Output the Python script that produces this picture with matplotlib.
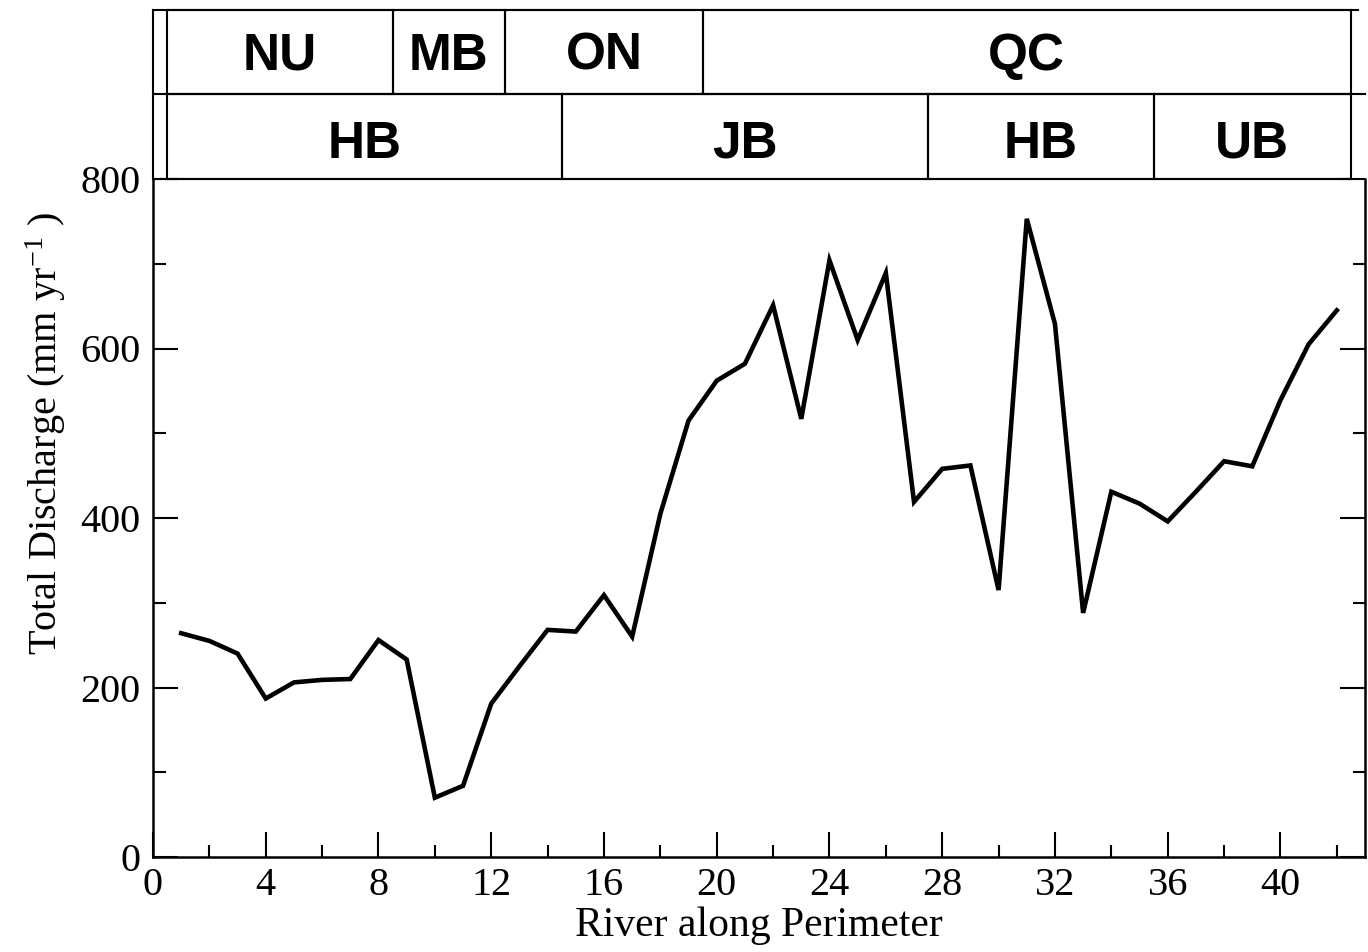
import matplotlib
matplotlib.use("Agg")
import matplotlib.pyplot as plt
from matplotlib.patches import Rectangle
from matplotlib.ticker import MultipleLocator

# discharge per river, numbered along the perimeter
river = list(range(1, 43))
discharge = [264, 255, 240, 187, 206, 209, 210, 256, 233, 70,
             84, 181, 225, 268, 266, 309, 260, 405, 515, 562,
             582, 651, 517, 704, 610, 689, 419, 458, 462, 315,
             753, 629, 288, 431, 417, 396, 431, 467, 461, 539,
             605, 645]

# region strips drawn above the plot (edges in river units)
provinces = ["NU", "MB", "ON", "QC"]
province_edges = [0.5, 8.5, 12.5, 19.5, 42.5]
basins = ["HB", "JB", "HB", "UB"]
basin_edges = [0.5, 14.5, 27.5, 35.5, 42.5]

plt.rcParams["font.family"] = ["Liberation Serif", "DejaVu Serif"]
plt.rcParams["mathtext.fontset"] = "custom"
plt.rcParams["mathtext.rm"] = "Liberation Serif"
plt.rcParams["mathtext.it"] = "Liberation Serif:italic"

fig = plt.figure(figsize=(13.68, 9.52), dpi=100)
ax = fig.add_axes([153 / 1368, 95 / 952, 1212 / 1368, 678 / 952])

ax.plot(river, discharge, color="black", lw=3.3, solid_joinstyle="miter")

ax.set_xlim(0, 43)
ax.set_ylim(0, 800)
ax.xaxis.set_major_locator(MultipleLocator(4))
ax.xaxis.set_minor_locator(MultipleLocator(2))
ax.yaxis.set_major_locator(MultipleLocator(200))
ax.yaxis.set_minor_locator(MultipleLocator(100))
ax.tick_params(which="both", direction="in", left=True, right=True,
               bottom=True, top=False, width=1.5, labelsize=29)
ax.tick_params(which="major", length=18)
ax.tick_params(which="minor", length=9)
ax.tick_params(axis="x", pad=7)
ax.tick_params(axis="y", pad=9)
for side in ["left", "right", "bottom"]:
    ax.spines[side].set_linewidth(1.8)
ax.spines["top"].set_visible(False)

ax.set_xlabel("River along Perimeter", fontsize=30, labelpad=2)
ax.set_ylabel(r"Total Discharge (mm yr$^{-1}$ )", fontsize=29)
ax.yaxis.set_label_coords(-0.07, 0.625)

# strip area above the data, in data coordinates (800 - 1000)
lw = 1.5
kw = dict(color="black", lw=lw, clip_on=False)
ax.plot([0, 0], [800, 1000], **kw)
ax.plot([0, 42.75], [1000, 1000], **kw)
ax.plot([0, 43], [900, 900], **kw)
ax.plot([0, 42.5], [800, 800], **kw)

for edges, names, y0, dy in [(province_edges, provinces, 900, 45),
                             (basin_edges, basins, 800, 41)]:
    for i, name in enumerate(names):
        ax.add_patch(Rectangle((edges[i], y0), edges[i + 1] - edges[i], 100,
                               fill=False, ec="black", lw=lw, clip_on=False))
        ax.text((edges[i] + edges[i + 1]) / 2, y0 + dy, name,
                family="Liberation Sans", weight="bold", fontsize=37,
                ha="center", va="center", clip_on=False)

fig.savefig("out.png", dpi=100)
